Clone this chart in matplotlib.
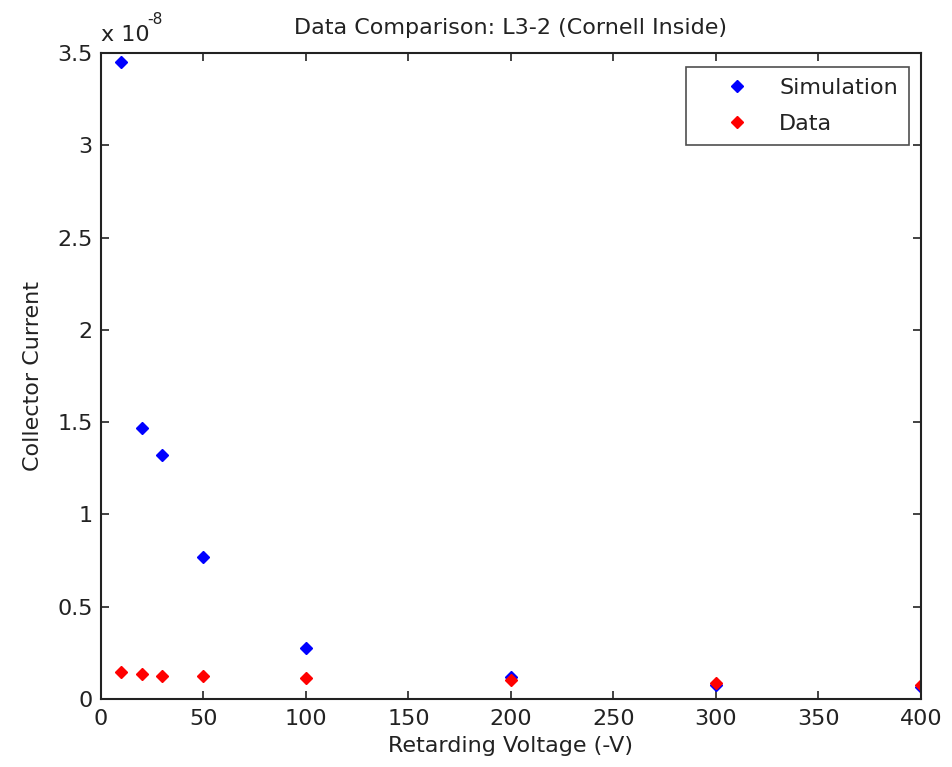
import matplotlib
matplotlib.use("Agg")
import matplotlib.pyplot as plt
from matplotlib.ticker import FuncFormatter

plt.rcParams['font.family'] = ['DejaVu Sans']

voltage = [10, 20, 30, 50, 100, 200, 300, 400]
simulation = [3.45e-8, 1.468e-8, 1.32e-8, 0.77e-8, 0.276e-8, 0.12e-8, 0.076e-8, 0.065e-8]
data = [0.146e-8, 0.135e-8, 0.125e-8, 0.125e-8, 0.114e-8, 0.103e-8, 0.087e-8, 0.076e-8]

FS = 16

fig = plt.figure(figsize=(9.53, 7.67), dpi=100)
ax = fig.add_axes([101 / 953, 1 - 699 / 767, 820 / 953, 646 / 767])

ax.plot(voltage, simulation, linestyle='none', marker='D', markersize=5.8,
        color='#0000ff', label='Simulation')
ax.plot(voltage, data, linestyle='none', marker='D', markersize=5.8,
        color='#ff0000', label='Data')

ax.set_xlim(0, 400)
ax.set_ylim(0, 3.5e-8)
ax.set_xticks(range(0, 401, 50))
ax.set_yticks([i * 0.5e-8 for i in range(8)])
ax.yaxis.set_major_formatter(FuncFormatter(lambda v, p: f"{v/1e-8:g}"))

ax.tick_params(direction='in', top=True, right=True, labelsize=FS, length=6,
               width=1.2, colors='#222222')
ax.tick_params(axis='x', pad=7)
ax.tick_params(axis='y', pad=6)
for s in ax.spines.values():
    s.set_linewidth(1.5)
    s.set_color('#222222')

ax.set_xlabel('Retarding Voltage (-V)', fontsize=FS, labelpad=5, color='#222222')
ax.set_ylabel('Collector Current', fontsize=FS, labelpad=10.5, color='#222222')
ax.set_title('Data Comparison: L3-2 (Cornell Inside)', fontsize=FS, pad=13.5,
             color='#222222')
ax.text(0.0, 1.013, 'x 10', transform=ax.transAxes, fontsize=FS,
        ha='left', va='bottom', color='#222222')
ax.text(0.057, 1.040, '-8', transform=ax.transAxes, fontsize=FS * 0.7,
        ha='left', va='bottom', color='#222222')

leg = ax.legend(loc='upper right', fontsize=FS, frameon=True, fancybox=False,
                edgecolor='#222222', handletextpad=0.1, borderpad=0.5,
                bbox_to_anchor=((909 - 101) / 820, (699 - 67) / 646),
                borderaxespad=0, labelspacing=0.72, handlelength=3.6,
                markerscale=1.0)
leg.get_frame().set_linewidth(1.2)
for t in leg.get_texts():
    t.set_color('#222222')

fig.savefig('out.png', dpi=100)
